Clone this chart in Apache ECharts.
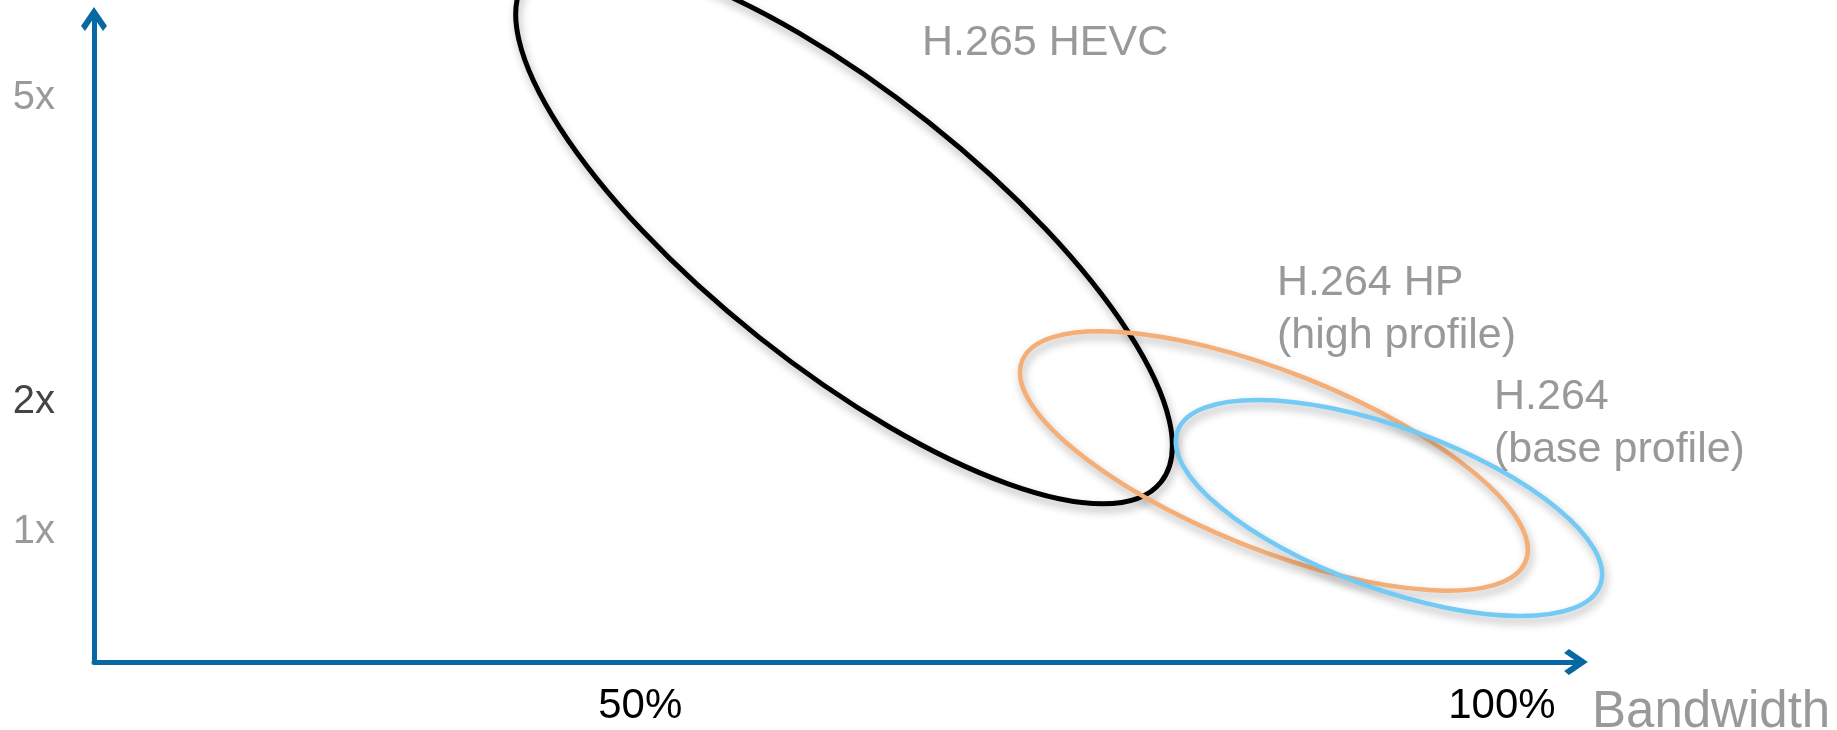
<!DOCTYPE html>
<html>
<head>
<meta charset="utf-8">
<script src="https://cdn.jsdelivr.net/npm/echarts@6/dist/echarts.min.js"></script>
<style>
  html, body { margin: 0; padding: 0; background: #fff; }
  #main { width: 1837px; height: 730px; }
</style>
</head>
<body>
<div id="main"></div>
<script>
const chartDom = document.getElementById('main');
const myChart = echarts.init(chartDom);

// codec regions: each ellipse is given by the two ends of its long axis
// in [bandwidth %, complexity] units, plus how thick it is vs. its length
const codecs = ['H.265 HEVC', 'H.264 HP\n(high profile)', 'H.264\n(base profile)'];
const axisStart = [[43.43, 5.266], [72.16, 2.319], [81.18, 1.778]];
const axisEnd = [[80.22, 1.386], [101.38, 0.776], [105.71, 0.593]];
const thickness = [0.338, 0.327, 0.358];
const labelAt = [[66.35, 4.965], [86.95, 3.118], [99.54, 2.244]];

const xTickValues = [50, 100];
const xTickLabels = ['50%', '100%'];
const yTickValues = [1, 2, 4.34];
const yTickLabels = ['1x', '2x', '5x'];

const ringColors = ['#000000', '#f5ae76', '#72caf5'];
const yLabelColors = ['#9a9a9a', '#444444', '#9a9a9a'];
const axisBlue = '#0768a3';
const font = '"Liberation Sans", Arial, sans-serif';

// open chevron used as arrow head (points up, rotated by the axis)
const chevron = 'path://M13 0 L26 19 L22 23.8 L13 10.6 L4 23.8 L0 19 Z';

const rows = codecs.map((name, i) => ({
    name: name,
    value: [axisStart[i][0], axisStart[i][1], axisEnd[i][0], axisEnd[i][1],
            labelAt[i][0], labelAt[i][1], thickness[i]]
}));

const option = {
    animation: false,
    grid: {
        left: 94,
        top: 19,
        right: 261,
        bottom: 68,
        outerBoundsMode: 'none'
    },
    xAxis: {
        type: 'value',
        min: 18.3,
        max: 104.3,
        name: 'Bandwidth',
        nameLocation: 'end',
        nameGap: 16,
        nameTextStyle: {
            color: '#999',
            fontSize: 51,
            fontFamily: font,
            align: 'left',
            verticalAlign: 'top',
            padding: [25, 0, 0, 0]
        },
        axisLine: {
            onZero: false,
            symbol: ['none', chevron],
            symbolSize: [26, 24],
            lineStyle: { color: axisBlue, width: 5 }
        },
        axisTick: { show: false },
        splitLine: { show: false },
        axisLabel: {
            customValues: xTickValues,
            formatter: v => xTickLabels[xTickValues.indexOf(Number(v))],
            color: '#000',
            fontSize: 42,
            fontFamily: font,
            margin: 23
        }
    },
    yAxis: {
        type: 'value',
        min: 0,
        max: 4.95,
        axisLine: {
            show: true,
            onZero: false,
            symbol: ['none', chevron],
            symbolSize: [26, 24],
            lineStyle: { color: axisBlue, width: 5 }
        },
        axisTick: { show: false },
        splitLine: { show: false },
        axisLabel: {
            customValues: yTickValues,
            formatter: v => yTickLabels[yTickValues.indexOf(Number(v))],
            color: (v, idx) => yLabelColors[yTickValues.indexOf(Number(v))],
            fontSize: 40,
            fontFamily: font,
            margin: 39
        }
    },
    series: [{
        type: 'custom',
        clip: false,
        data: rows,
        encode: { x: [0, 2, 4], y: [1, 3, 5] },
        renderItem: (params, api) => {
            const i = params.dataIndex;
            const p1 = api.coord([api.value(0), api.value(1)]);
            const p2 = api.coord([api.value(2), api.value(3)]);
            const lp = api.coord([api.value(4), api.value(5)]);
            const dx = p2[0] - p1[0];
            const dy = p2[1] - p1[1];
            const a = Math.hypot(dx, dy) / 2;
            const b = a * api.value(6);
            return {
                type: 'group',
                children: [{
                    type: 'ellipse',
                    x: (p1[0] + p2[0]) / 2,
                    y: (p1[1] + p2[1]) / 2,
                    rotation: -Math.atan2(dy, dx),
                    shape: { cx: 0, cy: 0, rx: a, ry: b },
                    style: {
                        fill: 'none',
                        stroke: ringColors[i],
                        lineWidth: i === 0 ? 5 : 4.5,
                        shadowBlur: 9,
                        shadowColor: 'rgba(0,0,0,0.3)',
                        shadowOffsetX: 2,
                        shadowOffsetY: 5
                    }
                }, {
                    type: 'text',
                    x: lp[0],
                    y: lp[1],
                    style: {
                        text: codecs[i],
                        fill: '#999',
                        font: '43px ' + font,
                        align: 'left',
                        verticalAlign: 'top',
                        lineHeight: 53
                    }
                }]
            };
        }
    }]
};

myChart.setOption(option);
window.onresize = () => myChart.resize();
</script>
</body>
</html>
